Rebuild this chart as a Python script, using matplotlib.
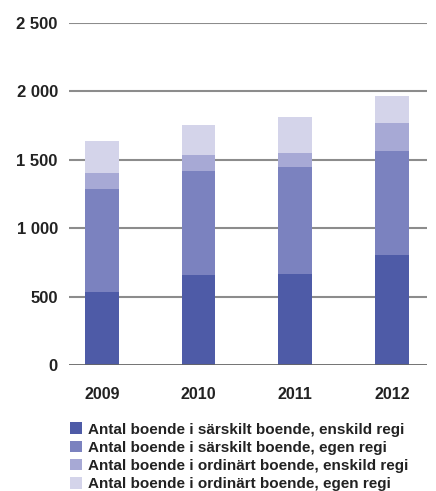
import matplotlib
matplotlib.use("Agg")
import matplotlib.pyplot as plt
from matplotlib.patches import Patch
import numpy as np

plt.rcParams["font.family"] = ["Liberation Sans", "DejaVu Sans"]

years = ["2009", "2010", "2011", "2012"]
sarskilt_enskild = [534, 659, 666, 805]
sarskilt_egen = [754, 761, 783, 761]
ordinart_enskild = [117, 117, 102, 205]
ordinart_egen = [235, 219, 264, 198]

series = [
    ("Antal boende i särskilt boende, enskild regi", sarskilt_enskild, "#4e5ba7"),
    ("Antal boende i särskilt boende, egen regi", sarskilt_egen, "#7b82bf"),
    ("Antal boende i ordinärt boende, enskild regi", ordinart_enskild, "#a7a9d5"),
    ("Antal boende i ordinärt boende, egen regi", ordinart_egen, "#d4d4ea"),
]

fig = plt.figure(figsize=(4.36, 4.91), dpi=100)
ax = fig.add_axes([0.158, 0.2566, 0.821, 0.6965])

x = np.arange(len(years))
bottom = np.zeros(len(years))
handles = []
for label, vals, color in series:
    ax.bar(x, vals, width=0.35, bottom=bottom, color=color, zorder=3)
    bottom += np.array(vals)
    handles.append(Patch(facecolor=color, label=label))

ax.set_ylim(0, 2500)
ax.set_xlim(-0.34, 3.36)
yticks = [0, 500, 1000, 1500, 2000, 2500]
ax.set_yticks(yticks)
ax.set_yticklabels([f"{v:,}".replace(",", " ") for v in yticks],
                   fontsize=12, fontweight="bold", color="#222222")
ax.set_xticks(x)
ax.set_xticklabels(years, fontsize=11.5, fontweight="bold", color="#222222")
ax.tick_params(axis="y", length=0, pad=8)
ax.tick_params(axis="x", length=0, pad=16)

# gridlines, with a darker baseline at zero
for v in yticks[1:]:
    ax.axhline(v, color="#8c8c8c", lw=1.5, zorder=1)
ax.axhline(0, color="#666666", lw=2, zorder=4)

for s in ax.spines.values():
    s.set_visible(False)

fig.legend(handles=handles, loc="upper left", bbox_to_anchor=(0.147, 0.152),
           frameon=False, handlelength=0.8, handleheight=0.8,
           handletextpad=0.35, labelspacing=0.26, borderaxespad=0,
           prop={"weight": "bold", "size": 11})
for t in fig.legends[0].get_texts():
    t.set_color("#222222")

fig.savefig("out.png", dpi=100)
